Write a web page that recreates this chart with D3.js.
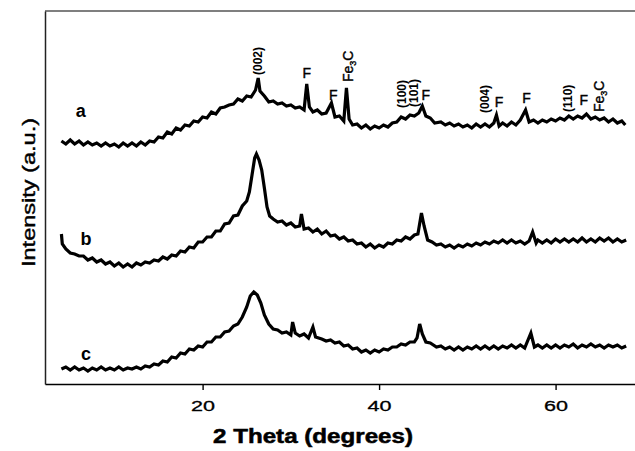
<!DOCTYPE html>
<html>
<head>
<meta charset="utf-8">
<script src="https://cdn.jsdelivr.net/npm/d3@7"></script>
<style>
  body { margin: 0; background: #fff; }
  text { font-family: "Liberation Sans", Arial, sans-serif; fill: #000; }
</style>
</head>
<body>
<script>
// XRD patterns, [2 theta, intensity] (a.u., already stacked)
var seriesA = [[4,243],[4.5,240],[5,244],[5.5,240],[6,243],[6.5,239],[7,242],[7.5,239],[8,241],[8.5,238],[9,241],[9.5,238],[10,240],[10.5,237],[11,241],[11.5,238],[12,241],[12.5,238],[13,242],[13.5,239],[14,243],[14.5,242],[15,247],[15.5,246],[16,252],[16.5,250],[17,256],[17.5,254],[18,259],[18.5,258],[19,263],[19.5,262],[20,267],[20.5,266],[21,272],[21.5,270],[22,276],[22.5,277],[23,279],[23.5,280],[24,285],[24.5,283],[25,288],[25.5,287],[26,294],[26.3,306],[26.5,293],[27,288],[27.5,282],[28,283],[28.5,280],[29,281],[29.5,278],[30,279],[30.5,276],[31,277],[31.5,274],[31.8,300],[32.1,277],[32.5,272],[33,274],[33.5,270],[34,271],[34.6,281],[35,267],[35.5,268],[36,263],[36.3,296],[36.6,265],[37,259],[37.5,260],[38,256],[38.5,259],[39,255],[39.5,258],[40,256],[40.5,259],[41,257],[41.5,261],[42,262],[42.5,267],[43,265],[43.5,269],[44,268],[44.5,271],[44.9,278],[45.3,268],[45.8,266],[46.3,261],[47,262],[47.5,259],[48,261],[48.5,258],[49,260],[49.5,257],[50,259],[50.5,256],[51,260],[51.5,257],[52,260],[52.5,257],[53,261],[53.3,269],[53.6,258],[54,261],[54.5,258],[55,262],[55.5,259],[56,264],[56.6,274],[57,262],[57.5,264],[58,261],[58.5,264],[59,262],[59.5,265],[60,263],[60.5,266],[61,264],[61.5,268],[62,265],[62.5,268],[63,266],[63.5,270],[64,265],[64.5,267],[65,264],[65.5,266],[66,262],[66.5,265],[67,261],[67.5,263],[67.9,259]];

var seriesB = [[4,150],[4.1,140],[4.5,135],[5,131],[5.5,130],[6,128],[6.5,128],[7,124],[7.5,126],[8,122],[8.5,124],[9,120],[9.5,122],[10,118],[10.5,121],[11,117],[11.5,120],[12,117],[12.5,121],[13,119],[13.5,122],[14,121],[14.5,124],[15,123],[15.5,127],[16,125],[16.5,129],[17,128],[17.5,133],[18,132],[18.5,137],[19,136],[19.5,142],[20,142],[20.5,147],[21,147],[21.5,153],[22,153],[22.5,160],[23,161],[23.5,168],[24,169],[24.5,178],[25,183],[25.3,192],[25.6,209],[25.9,226],[26.1,230],[26.4,224],[26.7,214],[27,196],[27.3,177],[27.6,168],[28,165],[28.5,162],[29,163],[29.5,159],[30,161],[30.5,157],[31,158],[31.2,170],[31.5,155],[32,156],[32.5,152],[33,155],[33.5,150],[34,153],[34.5,148],[35,149],[35.5,145],[36,147],[36.5,143],[37,144],[37.5,140],[38,141],[38.5,137],[39,140],[39.5,136],[40,139],[40.5,137],[41,141],[41.5,140],[42,144],[42.5,143],[43,147],[43.5,145],[44,149],[44.4,150],[44.8,171],[45.1,158],[45.5,144],[46,142],[46.5,139],[47,140],[47.5,137],[48,139],[48.5,136],[49,139],[49.5,137],[50,140],[50.5,138],[51,141],[51.5,139],[52,142],[52.5,140],[53,143],[53.5,141],[54,144],[54.5,141],[55,144],[55.5,141],[56,143],[56.5,140],[57,143],[57.4,152],[57.8,141],[58,144],[58.5,141],[59,144],[59.5,141],[60,145],[60.5,142],[61,145],[61.5,142],[62,145],[62.5,142],[63,146],[63.5,142],[64,145],[64.5,142],[65,146],[65.5,143],[66,146],[66.5,142],[67,145],[67.5,142],[68,144]];

var seriesC = [[4,15],[4.5,17],[5,14],[5.5,17],[6,14],[6.5,16],[7,13],[7.5,16],[8,14],[8.5,17],[9,14],[9.5,16],[10,14],[10.5,17],[11,14],[11.5,16],[12,15],[12.5,17],[13,15],[13.5,18],[14,17],[14.5,20],[15,19],[15.5,23],[16,22],[16.5,27],[17,26],[17.5,31],[18,30],[18.5,35],[19,34],[19.5,38],[20,37],[20.5,42],[21,42],[21.5,47],[22,47],[22.5,52],[23,53],[23.5,58],[24,60],[24.5,67],[25,77],[25.4,88],[25.8,92],[26.2,89],[26.6,81],[27,69],[27.5,60],[28,55],[28.5,54],[29,51],[29.5,52],[30,49],[30.2,62],[30.5,51],[31,48],[31.5,50],[32,46],[32.5,57],[32.8,47],[33.5,45],[34,43],[34.5,44],[35,41],[35.5,42],[36,38],[36.5,39],[37,35],[37.5,36],[38,32],[38.5,34],[39,31],[39.5,34],[40,32],[40.5,35],[41,34],[41.5,37],[42,37],[42.5,40],[43,39],[43.5,42],[44,42],[44.3,46],[44.6,60],[44.9,50],[45.3,42],[45.8,41],[46.5,37],[47,38],[47.5,35],[48,37],[48.5,34],[49,37],[49.5,34],[50,37],[50.5,35],[51,38],[51.5,35],[52,38],[52.5,35],[53,38],[53.5,35],[54,38],[54.5,36],[55,39],[55.5,36],[56,39],[56.5,36],[57.2,51],[57.6,37],[58,39],[58.5,36],[59,39],[59.5,36],[60,39],[60.5,36],[61,39],[61.5,37],[62,40],[62.5,36],[63,39],[63.5,37],[64,40],[64.5,37],[65,39],[65.5,36],[66,39],[66.5,37],[67,39],[67.5,36],[68,38]];

var sampleNames = ["a", "b", "c"];
var sampleLabelTheta = [6.2, 6.8, 6.8];
var sampleLabelLevel = [267, 139, 24];

// reflections marked over pattern a
var peakLabels = ["(002)", "F", "F", "Fe3C", "(100)", "(101)", "F", "(004)", "F", "F", "(110)", "F", "Fe3C"];
var peakTheta  = [26.2, 31.8, 34.8, 36.5, 42.6, 43.9, 45.3, 52.0, 53.6, 56.7, 61.4, 63.2, 64.9];
var peakLevel  = [309, 306, 284, 302, 276, 277, 284, 271, 277, 281, 272, 279, 272];

var xTicks = [20, 40, 60];

// set the dimensions and margins of the graph
var margin = {top: 11, right: 0, bottom: 67, left: 45},
    width = 635 - margin.left - margin.right,
    height = 451 - margin.top - margin.bottom;

var xScale = d3.scaleLinear()
    .domain([2.14, 69.0])
    .range([0, width]);

var yScale = d3.scaleLinear()
    .domain([0, 373])
    .range([height, 0]);

var svg = d3.select("body").append("svg")
    .attr("width", width + margin.left + margin.right)
    .attr("height", height + margin.top + margin.bottom);

var g = svg.append("g")
    .attr("transform", "translate(" + margin.left + "," + margin.top + ")");

// frame: grey top rule, left axis without ticks
g.append("line")
    .attr("x1", 0).attr("x2", width)
    .attr("y1", 0).attr("y2", 0)
    .attr("stroke", "#555")
    .attr("stroke-width", 1.5);

var yAxis = d3.axisLeft(yScale).tickValues([]).tickSizeOuter(0);
g.append("g")
    .attr("class", "y axis")
    .call(yAxis)
    .select(".domain")
    .attr("stroke", "#222")
    .attr("stroke-width", 1.5);

var xAxis = d3.axisBottom(xScale)
    .tickValues(xTicks)
    .tickSize(6)
    .tickSizeOuter(0)
    .tickPadding(10);

var xg = g.append("g")
    .attr("class", "x axis")
    .attr("transform", "translate(0," + height + ")")
    .call(xAxis);
xg.select(".domain").attr("stroke-width", 1.6);
xg.selectAll(".tick line").attr("stroke-width", 1.4);
xg.selectAll(".tick text")
    .attr("font-size", 15.5)
    .attr("font-family", "Liberation Sans, Arial, sans-serif")
    .attr("stroke", "#000")
    .attr("stroke-width", 0.3)
    .attr("textLength", 24)
    .attr("lengthAdjust", "spacingAndGlyphs");

// patterns
var line = d3.line()
    .x(function(d){ return xScale(d[0]); })
    .y(function(d){ return yScale(d[1]); });

g.selectAll(".pattern")
    .data([seriesA, seriesB, seriesC])
    .enter().append("path")
    .attr("class", "pattern")
    .attr("d", line)
    .attr("fill", "none")
    .attr("stroke", "#000")
    .attr("stroke-width", 3.2);

// a, b, c
g.selectAll(".sample")
    .data(sampleNames)
    .enter().append("text")
    .attr("class", "sample")
    .attr("x", function(d, i){ return xScale(sampleLabelTheta[i]); })
    .attr("y", function(d, i){ return yScale(sampleLabelLevel[i]); })
    .attr("text-anchor", "middle")
    .attr("font-size", 18)
    .attr("font-weight", "bold")
    .text(function(d){ return d; });

// peak marks: F upright, the rest rotated
var peaks = g.selectAll(".peak")
    .data(peakLabels)
    .enter().append("text")
    .attr("class", "peak")
    .attr("transform", function(d, i){
        var t = "translate(" + xScale(peakTheta[i]) + "," + yScale(peakLevel[i]) + ")";
        return d == "F" ? t : t + " rotate(-90)";
    })
    .attr("text-anchor", function(d){ return d == "F" ? "middle" : "start"; })
    .attr("dy", function(d){ return d == "F" ? 0 : "0.36em"; })
    .attr("font-size", function(d){ return d[0] == "(" ? 12 : 14; })
    .attr("font-weight", function(d){ return d[0] == "(" ? "bold" : "normal"; })
    .attr("stroke", "#000")
    .attr("stroke-width", function(d){ return d[0] == "(" ? 0 : 0.4; });

peaks.each(function(d){
    var t = d3.select(this);
    if (d == "Fe3C") {
        t.append("tspan").text("Fe");
        t.append("tspan").attr("font-size", 9).attr("dy", 3).text("3");
        t.append("tspan").attr("dy", -3).text("C");
    } else {
        t.text(d);
    }
});

// axis titles
svg.append("text")
    .attr("x", 313)
    .attr("y", 443)
    .attr("text-anchor", "middle")
    .attr("font-size", 19.5)
    .attr("font-weight", "bold")
    .attr("stroke", "#000")
    .attr("stroke-width", 0.5)
    .attr("textLength", 200)
    .attr("lengthAdjust", "spacingAndGlyphs")
    .text("2 Theta (degrees)");

svg.append("text")
    .attr("transform", "translate(29,192.5) rotate(-90)")
    .attr("text-anchor", "middle")
    .attr("dy", "0.35em")
    .attr("font-size", 18)
    .attr("stroke", "#000")
    .attr("stroke-width", 0.4)
    .attr("textLength", 149)
    .attr("lengthAdjust", "spacingAndGlyphs")
    .text("Intensity (a.u.)");
</script>
</body>
</html>
